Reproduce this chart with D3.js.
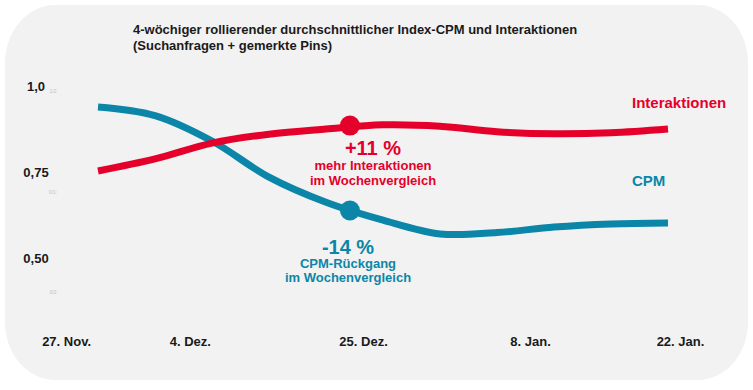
<!DOCTYPE html>
<html><head><meta charset="utf-8">
<script src="https://cdn.jsdelivr.net/npm/d3@7"></script>
<style>
html,body{margin:0;padding:0;background:#fff;}
svg{display:block;font-family:"Liberation Sans",Arial,Helvetica,sans-serif;}
</style></head>
<body><svg id="c" width="753" height="390"></svg>
<script>
// ---- data ----
const steps = [0,1,2,3,4,5,6,7,8,9,10];
const interaktionen = [0.753,0.788,0.834,0.860,0.875,0.887,0.883,0.867,0.861,0.864,0.875];
const cpm = [0.939,0.914,0.840,0.735,0.662,0.610,0.570,0.574,0.590,0.599,0.602];
const xTickLabels = ["27. Nov.","4. Dez.","25. Dez.","8. Jan.","22. Jan."];
const xTickPos = [-0.56,1.61,4.65,7.58,10.21];
const yTickValues = [1.0,0.75,0.5];
const yTickLabels = ["1,0","0,75","0,50"];
const yMinorValues = [0.985,0.692,0.40];
const yMinorLabels = ["1/2","0/1:","0/2"];
const highlightStep = 4.42;
const highlightInter = 0.885;
const highlightCpm = 0.638;
const title = ["4-wöchiger rollierender durchschnittlicher Index-CPM und Interaktionen","(Suchanfragen + gemerkte Pins)"];

const RED = "#e5002b", BLUE = "#0b86a8";
const svg = d3.select("#c");

// background panel
svg.append("rect").attr("x",5).attr("y",5).attr("width",743).attr("height",375)
  .attr("rx",50).attr("ry",58).attr("fill","#f2f2f2");

const x = d3.scaleLinear().domain([0,10]).range([98,668]);
const y = d3.scaleLinear().domain([0.5,1.0]).range([258,86]);

// title
svg.append("text").attr("x",133).attr("y",34).attr("font-size",13).attr("font-weight","bold").attr("fill","#1a1a1a")
  .selectAll("tspan").data(title).join("tspan").attr("x",133).attr("dy",(d,i)=>i?16:0).text(d=>d);

// x axis
const xa = svg.append("g").attr("transform","translate(0,334)")
  .call(d3.axisBottom(x).tickValues(xTickPos).tickFormat((d,i)=>xTickLabels[i]).tickSize(0));
xa.select(".domain").remove();
xa.selectAll("text").attr("font-size",13).attr("font-weight","bold").attr("fill","#1a1a1a")
  .attr("font-family","Liberation Sans, Arial, sans-serif").attr("dy","0.71em");

// y axis
const ya = svg.append("g").attr("transform","translate(36,0)")
  .call(d3.axisLeft(y).tickValues(yTickValues).tickFormat((d,i)=>yTickLabels[i]).tickSize(0).tickPadding(0));
ya.select(".domain").remove();
ya.selectAll("text").attr("text-anchor","middle").attr("font-size",13).attr("font-weight","bold")
  .attr("fill","#1a1a1a").attr("font-family","Liberation Sans, Arial, sans-serif");

// tiny faint labels
svg.append("g").selectAll("text").data(yMinorValues).join("text")
  .attr("x",53).attr("y",d=>y(d)).attr("dy","0.35em").attr("text-anchor","middle")
  .attr("font-size",5).attr("fill","#c0c0c0").text((d,i)=>yMinorLabels[i]);

// lines
const line = d3.line().x((d,i)=>x(steps[i])).y(d=>y(d)).curve(d3.curveCatmullRom.alpha(0.5));
svg.append("path").datum(cpm).attr("d",line).attr("fill","none").attr("stroke",BLUE).attr("stroke-width",7);
svg.append("path").datum(interaktionen).attr("d",line).attr("fill","none").attr("stroke",RED).attr("stroke-width",7);

// dots
svg.append("circle").attr("cx",x(highlightStep)).attr("cy",y(highlightInter)).attr("r",10).attr("fill",RED);
svg.append("circle").attr("cx",x(highlightStep)).attr("cy",y(highlightCpm)).attr("r",10).attr("fill",BLUE);

// series labels
svg.append("text").attr("x",632).attr("y",108).attr("font-size",15).attr("font-weight","bold").attr("fill",RED).text("Interaktionen");
svg.append("text").attr("x",632).attr("y",186).attr("font-size",15).attr("font-weight","bold").attr("fill",BLUE).text("CPM");

// annotations
function ann(cx, lines, color){
  const g = svg.append("g").attr("fill",color).attr("font-weight","bold").attr("text-anchor","middle");
  lines.forEach(l=>g.append("text").attr("x",cx).attr("y",l[1]).attr("font-size",l[2]).text(l[0]));
}
ann(373,[["+11 %",155,20],["mehr Interaktionen",170,13],["im Wochenvergleich",185,13]],RED);
ann(348,[["-14 %",254,20],["CPM-Rückgang",268,13],["im Wochenvergleich",282,13]],BLUE);
</script></body></html>
